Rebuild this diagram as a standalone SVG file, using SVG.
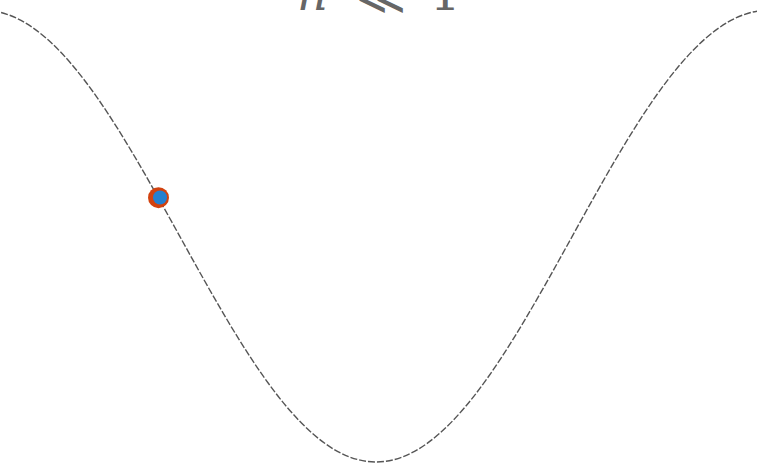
<svg xmlns="http://www.w3.org/2000/svg" width="757" height="466" viewBox="0 0 757 466">
<style>
.curve{fill:none;stroke:#555;stroke-width:1.4;stroke-dasharray:7 2}
.lbl{font-family:"DejaVu Serif","Liberation Serif",serif;font-size:48px;fill:#666}
</style>
<rect width="757" height="466" fill="#fff"/>
<g id="label">
<text class="lbl" y="10"><tspan x="297" font-style="italic">n</tspan><tspan x="356" y="14">≪</tspan><tspan x="430" y="10">1</tspan></text>
</g>
<g id="curve">
<path class="curve" d="M -16.7,10.2 C 54.36,10.2 115.61,120.37 179.65,236.1 C 243.69,351.83 304.94,462 376,462 C 447.06,462 508.31,351.83 572.35,236.1 C 636.39,120.37 697.64,10.2 768.7,10.2"/>
</g>
<g id="dot">
<circle cx="158.5" cy="197.7" r="10.5" fill="#d2420f"/>
<circle cx="160" cy="197.5" r="7" fill="#2480d0"/>
</g>
</svg>
